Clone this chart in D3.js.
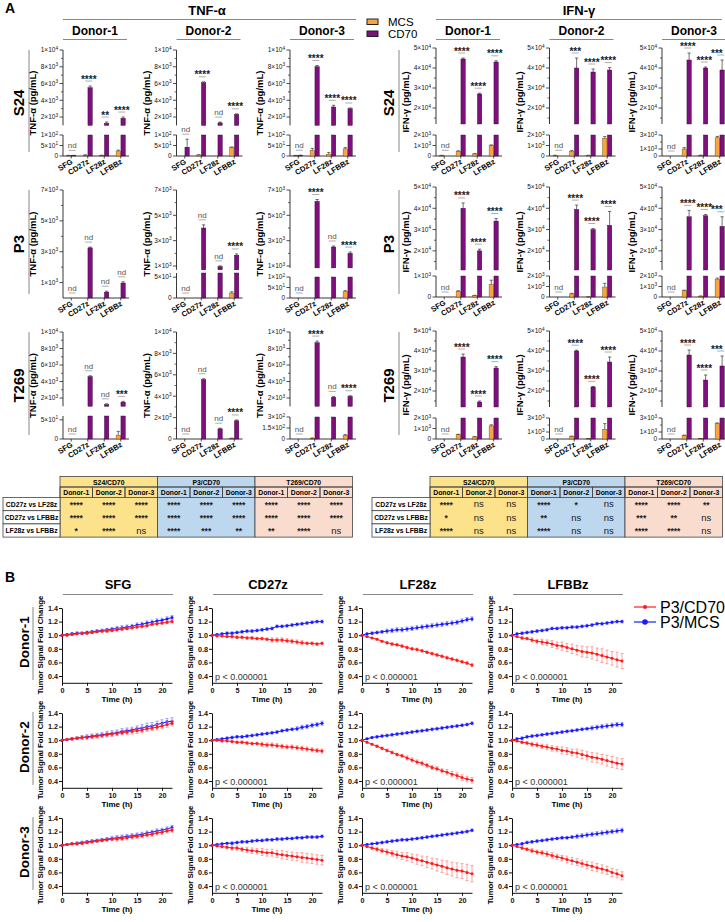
<!DOCTYPE html>
<html>
<head>
<meta charset="utf-8">
<script src="https://cdn.jsdelivr.net/npm/d3@7"></script>
<style>
  body { margin: 0; background: #fff; }
  svg { font-family: "Liberation Sans", Arial, sans-serif; display: block; }
</style>
</head>
<body>
<script>
// ---------------- Panel A : cytokine bars ----------------
const cats = ['SFG', 'CD27z', 'LF28z', 'LFBBz'];
const donors = ['Donor-1', 'Donor-2', 'Donor-3'];
const models = ['S24', 'P3', 'T269'];

// TNF-a, one inner array per donor, values in cats order (pg/mL)
const tnfS24Mcs = [[2, 4, 3, 24], [0, 5, 0, 40], [2, 26, 9, 34]];
const tnfS24McsErr = [[1, 2, 1, 4], [0, 1, 0, 3], [1, 10, 8, 6]];
const tnfS24Cd70 = [[2, 5500, 1250, 1850], [42, 6100, 1300, 2300], [3, 8000, 3200, 3000]];
const tnfS24Cd70Err = [[1, 200, 150, 150], [38, 100, 100, 80], [1, 150, 200, 80]];
const tnfS24Sig = [['nd', '****', '**', '****'], ['nd', '****', 'nd', '****'], ['nd', '****', '****', '****']];

const tnfP3Mcs = [[0, 0, 0, 0], [0, 0, 0, 12], [0, 0, 0, 30]];
const tnfP3McsErr = [[0, 0, 0, 0], [0, 0, 0, 3], [0, 0, 0, 5]];
const tnfP3Cd70 = [[0, 3250, 380, 970], [0, 4000, 950, 1850], [0, 6100, 2500, 2000]];
const tnfP3Cd70Err = [[0, 50, 60, 80], [0, 250, 60, 100], [0, 150, 80, 100]];
const tnfP3Sig = [['nd', 'nd', 'nd', 'nd'], ['nd', 'nd', 'nd', '****'], ['nd', '****', 'nd', '****']];

const tnfT269Mcs = [[0, 0, 0, 10], [0, 0, 0, 60], [0, 10, 0, 50]];
const tnfT269McsErr = [[0, 0, 0, 10], [0, 0, 0, 20], [0, 5, 0, 10]];
const tnfT269Cd70 = [[0, 4600, 1200, 1500], [0, 5550, 950, 1700], [0, 8700, 2100, 2200]];
const tnfT269Cd70Err = [[0, 100, 100, 100], [0, 80, 60, 80], [0, 200, 100, 80]];
const tnfT269Sig = [['nd', 'nd', 'nd', '***'], ['nd', 'nd', 'nd', '****'], ['nd', '****', 'nd', '****']];

// IFN-g
const ifnS24Mcs = [[50, 450, 200, 1000], [50, 450, 50, 1700], [0, 1000, 100, 2600]];
const ifnS24McsErr = [[20, 50, 30, 60], [20, 80, 20, 150], [0, 200, 30, 200]];
const ifnS24Cd70 = [[0, 44500, 27000, 43000], [0, 40000, 38000, 39000], [0, 44000, 40000, 39000]];
const ifnS24Cd70Err = [[0, 500, 400, 600], [0, 5000, 1500, 1200], [0, 3500, 500, 5000]];
const ifnS24Sig = [['nd', '****', '****', '****'], ['nd', '***', '****', '****'], ['nd', '****', '****', '***']];

const ifnP3Mcs = [[0, 270, 60, 600], [0, 300, 10, 950], [0, 600, 80, 1700]];
const ifnP3McsErr = [[0, 30, 20, 200], [0, 50, 5, 350], [0, 50, 20, 100]];
const ifnP3Cd70 = [[0, 40000, 20000, 34000], [0, 39500, 30000, 32000], [0, 36000, 36500, 31500]];
const ifnP3Cd70Err = [[0, 2500, 800, 1200], [0, 2000, 500, 6500], [0, 3000, 600, 4500]];
const ifnP3Sig = [['nd', '****', '****', '****'], ['nd', '****', '****', '****'], ['nd', '****', '****', '***']];

const ifnT269Mcs = [[0, 400, 200, 1250], [0, 350, 30, 1400], [0, 500, 50, 2200]];
const ifnT269McsErr = [[0, 50, 30, 100], [0, 60, 10, 800], [0, 60, 20, 100]];
const ifnT269Cd70 = [[0, 37000, 14500, 31500], [0, 40000, 22000, 34500], [0, 38000, 25500, 32500]];
const ifnT269Cd70Err = [[0, 1500, 500, 700], [0, 400, 300, 2500], [0, 2500, 2500, 5000]];
const ifnT269Sig = [['nd', '****', '****', '****'], ['nd', '****', '****', '****'], ['nd', '****', '****', '***']];

// significance tables
const tableGroups = ['S24/CD70', 'P3/CD70', 'T269/CD70'];
const tableRows = ['CD27z vs LF28z', 'CD27z vs LFBBz', 'LF28z vs LFBBz'];
const tnfTable = [
  ['****', '****', '****', '****', '****', '****', '****', '****', '****'],
  ['****', '****', '****', '****', '****', '****', '****', '****', '****'],
  ['*', '****', 'ns', '****', '***', '**', '**', '****', 'ns']
];
const ifnTable = [
  ['****', 'ns', 'ns', '****', '*', 'ns', '****', '****', '**'],
  ['*', 'ns', 'ns', '**', 'ns', 'ns', '***', '**', 'ns'],
  ['****', 'ns', 'ns', '****', 'ns', 'ns', '****', '****', 'ns']
];

// ---------------- Panel B : tumor signal time course ----------------
const bCols = ['SFG', 'CD27z', 'LF28z', 'LFBBz'];
const hours = [0, 1, 2, 3, 4, 5, 6, 7, 8, 9, 10, 11, 12, 13, 14, 15, 16, 17, 18, 19, 20, 21, 22];
const bYTicks = [0.4, 0.6, 0.8, 1.0, 1.2, 1.4];
const bXTicks = [0, 5, 10, 15, 20];

const d1SfgCd70 = [1.00, 1.00, 1.01, 1.02, 1.03, 1.03, 1.04, 1.05, 1.06, 1.06, 1.07, 1.08, 1.09, 1.10, 1.11, 1.12, 1.13, 1.14, 1.16, 1.17, 1.18, 1.19, 1.20];
const d1SfgCd70Sd = [0, .01, .01, .01, .01, .01, .01, .01, .02, .02, .02, .02, .02, .02, .02, .02, .02, .02, .02, .02, .02, .02, .02];
const d1SfgMcs = [1.00, 1.01, 1.02, 1.03, 1.03, 1.04, 1.05, 1.06, 1.07, 1.08, 1.09, 1.10, 1.11, 1.12, 1.13, 1.15, 1.16, 1.18, 1.19, 1.21, 1.22, 1.24, 1.26];
const d1SfgMcsSd = [0, .01, .02, .02, .02, .02, .02, .02, .02, .02, .02, .03, .03, .03, .03, .03, .03, .03, .03, .03, .03, .03, .03];
const d1Cd27Cd70 = [1.00, 0.99, 0.99, 0.98, 0.98, 0.97, 0.97, 0.96, 0.96, 0.95, 0.95, 0.94, 0.93, 0.93, 0.93, 0.92, 0.91, 0.90, 0.89, 0.88, 0.88, 0.87, 0.88];
const d1Cd27Cd70Sd = [0, .01, .01, .01, .02, .02, .02, .02, .02, .02, .02, .02, .03, .03, .03, .03, .03, .03, .03, .02, .02, .02, .02];
const d1Cd27Mcs = [1.00, 1.01, 1.02, 1.03, 1.03, 1.04, 1.05, 1.06, 1.06, 1.07, 1.08, 1.09, 1.10, 1.13, 1.13, 1.14, 1.15, 1.16, 1.17, 1.18, 1.19, 1.20, 1.20];
const d1Cd27McsSd = [0, .01, .01, .02, .02, .02, .02, .02, .02, .02, .02, .02, .02, .02, .02, .02, .02, .02, .02, .02, .02, .02, .02];
const d1Lf28Cd70 = [1.00, 0.98, 0.96, 0.94, 0.91, 0.89, 0.87, 0.86, 0.84, 0.82, 0.80, 0.79, 0.77, 0.75, 0.73, 0.71, 0.69, 0.67, 0.65, 0.63, 0.61, 0.59, 0.56];
const d1Lf28Cd70Sd = [0, .01, .01, .01, .01, .02, .02, .02, .02, .02, .02, .02, .02, .02, .02, .02, .02, .02, .02, .02, .02, .02, .02];
const d1Lf28Mcs = [1.00, 1.02, 1.03, 1.04, 1.05, 1.06, 1.07, 1.08, 1.08, 1.09, 1.10, 1.11, 1.12, 1.13, 1.14, 1.15, 1.16, 1.17, 1.18, 1.19, 1.21, 1.23, 1.24];
const d1Lf28McsSd = [0, .01, .02, .02, .02, .03, .03, .03, .03, .03, .03, .03, .03, .03, .03, .03, .03, .03, .03, .03, .03, .03, .03];
const d1LfbbCd70 = [1.00, 0.98, 0.96, 0.95, 0.93, 0.91, 0.90, 0.89, 0.87, 0.85, 0.84, 0.82, 0.80, 0.78, 0.76, 0.75, 0.74, 0.72, 0.70, 0.68, 0.66, 0.64, 0.62];
const d1LfbbCd70Sd = [0, .01, .02, .02, .03, .03, .04, .04, .05, .05, .06, .06, .07, .07, .08, .08, .09, .09, .10, .10, .10, .11, .11];
const d1LfbbMcs = [1.00, 1.02, 1.03, 1.04, 1.05, 1.06, 1.07, 1.08, 1.10, 1.10, 1.11, 1.11, 1.12, 1.12, 1.13, 1.14, 1.15, 1.17, 1.17, 1.18, 1.19, 1.20, 1.20];
const d1LfbbMcsSd = [0, .01, .02, .02, .02, .02, .02, .02, .02, .02, .02, .02, .02, .02, .02, .02, .02, .02, .02, .02, .02, .02, .02];

const d2SfgCd70 = [1.00, 1.01, 1.02, 1.03, 1.04, 1.04, 1.05, 1.06, 1.07, 1.08, 1.09, 1.10, 1.11, 1.12, 1.13, 1.14, 1.15, 1.17, 1.18, 1.19, 1.21, 1.23, 1.25];
const d2SfgCd70Sd = [0, .01, .02, .02, .02, .03, .03, .03, .03, .03, .03, .03, .03, .04, .04, .04, .04, .04, .04, .04, .04, .04, .04];
const d2SfgMcs = [1.00, 1.01, 1.02, 1.03, 1.04, 1.05, 1.06, 1.07, 1.08, 1.09, 1.10, 1.11, 1.13, 1.14, 1.15, 1.17, 1.18, 1.20, 1.21, 1.23, 1.25, 1.27, 1.28];
const d2SfgMcsSd = [0, .01, .02, .02, .03, .03, .03, .03, .03, .04, .04, .04, .04, .04, .04, .04, .05, .05, .05, .05, .05, .05, .05];
const d2Cd27Cd70 = [1.00, 1.00, 0.99, 0.99, 0.98, 0.97, 0.97, 0.96, 0.95, 0.95, 0.94, 0.93, 0.93, 0.92, 0.91, 0.90, 0.90, 0.89, 0.88, 0.87, 0.86, 0.85, 0.84];
const d2Cd27Cd70Sd = [0, .01, .01, .01, .02, .02, .02, .02, .02, .02, .03, .03, .03, .03, .03, .03, .03, .03, .03, .03, .03, .03, .03];
const d2Cd27Mcs = [1.00, 1.01, 1.02, 1.03, 1.04, 1.05, 1.05, 1.06, 1.07, 1.08, 1.09, 1.10, 1.11, 1.12, 1.14, 1.15, 1.16, 1.17, 1.19, 1.20, 1.22, 1.23, 1.25];
const d2Cd27McsSd = [0, .01, .01, .02, .02, .02, .02, .02, .02, .02, .02, .02, .02, .02, .02, .02, .02, .03, .03, .03, .03, .03, .03];
const d2Lf28Cd70 = [1.00, 0.97, 0.94, 0.91, 0.88, 0.85, 0.82, 0.79, 0.77, 0.74, 0.71, 0.68, 0.66, 0.63, 0.60, 0.58, 0.55, 0.53, 0.50, 0.48, 0.45, 0.43, 0.41];
const d2Lf28Cd70Sd = [0, .01, .01, .02, .02, .02, .02, .02, .02, .03, .03, .03, .03, .03, .03, .03, .03, .04, .04, .04, .04, .04, .04];
const d2Lf28Mcs = [1.00, 1.02, 1.04, 1.05, 1.06, 1.07, 1.08, 1.09, 1.10, 1.11, 1.12, 1.13, 1.14, 1.15, 1.16, 1.17, 1.18, 1.19, 1.20, 1.21, 1.22, 1.23, 1.25];
const d2Lf28McsSd = [0, .01, .01, .02, .02, .02, .02, .02, .02, .02, .02, .02, .02, .02, .02, .02, .02, .02, .02, .02, .02, .02, .02];
const d2LfbbCd70 = [1.00, 0.99, 0.97, 0.96, 0.94, 0.93, 0.91, 0.90, 0.88, 0.87, 0.85, 0.84, 0.82, 0.81, 0.79, 0.77, 0.75, 0.74, 0.72, 0.70, 0.68, 0.66, 0.65];
const d2LfbbCd70Sd = [0, .01, .02, .02, .03, .03, .03, .04, .04, .04, .05, .05, .05, .06, .06, .06, .07, .07, .07, .08, .08, .08, .08];
const d2LfbbMcs = [1.00, 1.02, 1.03, 1.05, 1.06, 1.07, 1.08, 1.09, 1.10, 1.11, 1.12, 1.13, 1.14, 1.15, 1.16, 1.17, 1.18, 1.19, 1.20, 1.21, 1.22, 1.23, 1.23];
const d2LfbbMcsSd = [0, .01, .02, .02, .02, .02, .02, .02, .02, .02, .02, .02, .02, .02, .02, .02, .03, .03, .03, .03, .03, .03, .03];

const d3SfgCd70 = [1.00, 1.01, 1.02, 1.02, 1.03, 1.04, 1.05, 1.06, 1.07, 1.08, 1.09, 1.09, 1.10, 1.11, 1.12, 1.13, 1.14, 1.15, 1.16, 1.18, 1.19, 1.21, 1.22];
const d3SfgCd70Sd = [0, .01, .01, .02, .02, .02, .02, .02, .02, .02, .02, .03, .03, .03, .03, .03, .03, .03, .03, .03, .03, .03, .03];
const d3SfgMcs = [1.00, 1.01, 1.02, 1.03, 1.04, 1.05, 1.06, 1.07, 1.08, 1.09, 1.10, 1.11, 1.12, 1.13, 1.14, 1.15, 1.16, 1.18, 1.19, 1.21, 1.22, 1.24, 1.26];
const d3SfgMcsSd = [0, .01, .01, .02, .02, .02, .02, .02, .02, .02, .03, .03, .03, .03, .03, .03, .03, .03, .03, .03, .03, .03, .03];
const d3Cd27Cd70 = [1.00, 0.99, 0.98, 0.97, 0.96, 0.96, 0.94, 0.93, 0.92, 0.91, 0.90, 0.89, 0.89, 0.87, 0.86, 0.85, 0.84, 0.83, 0.82, 0.81, 0.80, 0.79, 0.78];
const d3Cd27Cd70Sd = [0, .01, .02, .02, .03, .03, .03, .04, .04, .04, .05, .05, .05, .05, .06, .06, .06, .06, .07, .07, .07, .07, .07];
const d3Cd27Mcs = [1.00, 1.01, 1.02, 1.03, 1.03, 1.04, 1.05, 1.05, 1.06, 1.07, 1.07, 1.08, 1.08, 1.09, 1.09, 1.10, 1.10, 1.11, 1.11, 1.12, 1.12, 1.12, 1.13];
const d3Cd27McsSd = [0, .01, .01, .01, .02, .02, .02, .02, .02, .02, .02, .02, .02, .02, .02, .02, .02, .02, .02, .02, .02, .02, .02];
const d3Lf28Cd70 = [1.00, 0.98, 0.96, 0.94, 0.92, 0.90, 0.88, 0.86, 0.84, 0.83, 0.81, 0.79, 0.77, 0.75, 0.73, 0.71, 0.69, 0.67, 0.65, 0.63, 0.62, 0.60, 0.58];
const d3Lf28Cd70Sd = [0, .01, .02, .03, .03, .04, .04, .05, .05, .06, .06, .07, .07, .08, .08, .09, .09, .10, .10, .11, .11, .12, .12];
const d3Lf28Mcs = [1.00, 1.01, 1.02, 1.03, 1.04, 1.05, 1.06, 1.07, 1.08, 1.08, 1.09, 1.10, 1.11, 1.12, 1.13, 1.14, 1.15, 1.16, 1.17, 1.18, 1.19, 1.20, 1.22];
const d3Lf28McsSd = [0, .01, .01, .02, .02, .02, .02, .02, .02, .02, .02, .02, .02, .02, .02, .02, .02, .02, .02, .02, .02, .02, .02];
const d3LfbbCd70 = [1.00, 0.98, 0.96, 0.94, 0.92, 0.90, 0.89, 0.87, 0.85, 0.83, 0.81, 0.79, 0.77, 0.75, 0.73, 0.71, 0.69, 0.67, 0.65, 0.63, 0.60, 0.58, 0.55];
const d3LfbbCd70Sd = [0, .01, .02, .02, .03, .03, .03, .04, .04, .04, .04, .05, .05, .05, .05, .05, .06, .06, .06, .06, .06, .06, .06];
const d3LfbbMcs = [1.00, 1.01, 1.02, 1.04, 1.05, 1.06, 1.07, 1.08, 1.09, 1.10, 1.11, 1.11, 1.12, 1.13, 1.14, 1.15, 1.16, 1.17, 1.18, 1.19, 1.20, 1.21, 1.22];
const d3LfbbMcsSd = [0, .01, .02, .02, .02, .02, .02, .02, .02, .02, .02, .02, .02, .03, .03, .03, .03, .03, .03, .03, .03, .03, .03];

// ---------------- layout ----------------
const W = 725, H = 922;
const ORANGE = '#f7a541', PURPLE = '#7f0f7e', RED = '#ff1a1a', BLUE = '#1a1aff';
const svg = d3.select('body').append('svg').attr('width', W).attr('height', H);

// axis segment helper: value domain, pixel range, labelled ticks, minor ticks
const seg = (d, r, t, m = []) => ({ d, r, t, m });
const tnfUp10k = r => seg([1000, 10000], r, [2000, 4000, 6000, 8000, 10000], [3000, 5000, 7000, 9000]);
const tnfUp7k = r => seg([r[2], 7000], [r[0], r[1]], [1000, 3000, 5000, 7000], [2000, 4000, 6000]);
const ifnUp = (lo, r) => seg([lo, 50000], r, [20000, 30000, 40000, 50000], [15000, 25000, 35000, 45000]);

const tnfAxes = [
  [0, 1, 2].map(() => [seg([0, 100], [156, 135], [0, 50, 100]), tnfUp10k([125.4, 50])]),
  [
    [seg([0, 7000], [298, 190], [1000, 3000, 5000, 7000], [2000, 4000, 6000])],
    [seg([0, 60], [298, 273], [0, 50]), tnfUp7k([269.8, 190, 700])],
    [seg([0, 100], [298, 277], [0, 50, 100]), tnfUp7k([267.9, 190, 850])]
  ],
  [
    [seg([0, 60], [439, 416], [0, 50]), tnfUp10k([406.3, 332])],
    [seg([0, 10000], [439, 332], [0, 2000, 4000, 6000, 8000, 10000], [1000, 3000, 5000, 7000, 9000])],
    [seg([0, 300], [439, 417], [0, 150, 300]), tnfUp10k([406.3, 332])]
  ]
];
const ifnAxes = [
  [
    [seg([0, 2000], [156, 135], [0, 1000, 2000]), ifnUp(12000, [124, 48])],
    [seg([0, 2000], [156, 135], [0, 1000, 2000]), ifnUp(12000, [124, 48])],
    [seg([0, 3000], [156, 135], [0, 1000, 3000], [2000]), ifnUp(12000, [124, 48])]
  ],
  [
    [seg([0, 1000], [297, 276], [0, 1000]), ifnUp(11000, [270, 187])],
    [seg([0, 2000], [297, 276], [0, 1000, 2000]), ifnUp(11000, [270, 187])],
    [seg([0, 2000], [297, 276], [0, 1000, 2000]), ifnUp(11000, [270, 187])]
  ],
  [
    [seg([0, 2000], [439, 418], [0, 1000, 2000]), ifnUp(12000, [407, 331])],
    [seg([0, 3000], [439, 418], [0, 1000, 3000], [2000]), ifnUp(12000, [407, 331])],
    [seg([0, 3000], [439, 418], [0, 1000, 3000], [2000]), ifnUp(12000, [407, 331])]
  ]
];
const tnfX = [63, 176.5, 290];
const ifnX = [436, 549.5, 662];
const rowSpan = [[50, 156], [190, 298], [332, 439]];

// "1×10^4" style label
function sciText(sel, v, size) {
  if (v === 0) { sel.text('0'); return; }
  const e = Math.floor(Math.log10(v) + 1e-9);
  const m = +(v / Math.pow(10, e)).toFixed(2);
  sel.append('tspan').text(m + '×10');
  sel.append('tspan').attr('font-size', size * 0.72).attr('dy', -size * 0.42).text(e);
}

function drawBarPanel(x0, segsIn, mcs, mcsErr, cd70, cd70Err, sig, yLabel) {
  const g = svg.append('g');
  const segs = segsIn.map(s => Object.assign({}, s, { y: d3.scaleLinear().domain(s.d).range(s.r) }));
  const yOf = v => {
    for (let i = segs.length - 1; i >= 0; i--) {
      const s = segs[i];
      if (v >= s.d[0] || i === 0) return s.y(Math.min(v, s.d[1]));
    }
  };
  const bottom = segs[0].r[0], top = segs[segs.length - 1].r[1];
  const x = d3.scaleBand().domain(cats).range([x0, x0 + 66]);
  const xs = d3.scaleBand().domain(['MCS', 'CD70']).range([3.6, 12.8]).paddingInner(0.1);

  // y axis segments with ticks
  segs.forEach(s => {
    g.append('line').attr('x1', x0).attr('x2', x0).attr('y1', s.r[0]).attr('y2', s.r[1])
      .attr('stroke', '#222').attr('stroke-width', 0.9);
    s.m.forEach(t => g.append('line').attr('x1', x0 - 2).attr('x2', x0).attr('y1', s.y(t)).attr('y2', s.y(t))
      .attr('stroke', '#222').attr('stroke-width', 0.7));
    s.t.forEach(t => {
      g.append('line').attr('x1', x0 - 3.5).attr('x2', x0).attr('y1', s.y(t)).attr('y2', s.y(t))
        .attr('stroke', '#222').attr('stroke-width', 0.8);
      const tx = g.append('text').attr('x', x0 - 5).attr('y', s.y(t) + 2.3)
        .attr('text-anchor', 'end').attr('font-size', 6.5).attr('fill', '#111');
      sciText(tx, t, 6.5);
    });
  });

  // x axis
  g.append('line').attr('x1', x0).attr('x2', x0 + 66).attr('y1', bottom).attr('y2', bottom)
    .attr('stroke', '#222').attr('stroke-width', 0.9);
  cats.forEach(c => {
    const cx = x(c) + x.bandwidth() / 2;
    g.append('line').attr('x1', cx).attr('x2', cx).attr('y1', bottom).attr('y2', bottom + 2.5)
      .attr('stroke', '#222').attr('stroke-width', 0.8);
    g.append('text').attr('transform', `translate(${cx + 2},${bottom + 7}) rotate(-32)`)
      .attr('text-anchor', 'end').attr('font-size', 7.6).attr('font-weight', 'bold').text(c);
  });

  // bars (broken across segments) and upward error bars
  const series = [
    { key: 'MCS', vals: mcs, errs: mcsErr, fill: ORANGE, stroke: '#6b3d00' },
    { key: 'CD70', vals: cd70, errs: cd70Err, fill: PURPLE, stroke: '#2a002a' }
  ];
  series.forEach(sr => {
    cats.forEach((c, i) => {
      const v = sr.vals[i], bx = x(c) + xs(sr.key), bw = xs.bandwidth();
      segs.forEach(s => {
        if (v > s.d[0]) {
          const yt = s.y(Math.min(v, s.d[1])), yb = s.y(s.d[0]);
          g.append('rect').attr('x', bx).attr('y', yt).attr('width', bw).attr('height', Math.max(0, yb - yt))
            .attr('fill', sr.fill).attr('stroke', sr.stroke).attr('stroke-width', 0.4);
        }
      });
      if (sr.errs[i] > 0 && v > 0) {
        const y1 = yOf(v), y2 = yOf(v + sr.errs[i]), cx = bx + bw / 2;
        g.append('line').attr('x1', cx).attr('x2', cx).attr('y1', y1).attr('y2', y2).attr('stroke', '#333').attr('stroke-width', 0.7);
        g.append('line').attr('x1', cx - 1.6).attr('x2', cx + 1.6).attr('y1', y2).attr('y2', y2).attr('stroke', '#333').attr('stroke-width', 0.7);
      }
    });
  });

  // significance marks (kept inside the page on the right edge)
  cats.forEach((c, i) => {
    if (!sig[i]) return;
    const yTop = Math.min(yOf(mcs[i] + mcsErr[i]), yOf(cd70[i] + cd70Err[i]));
    const cx = x(c) + x.bandwidth() / 2 + 1;
    const ly = yTop - 5;
    g.append('line').attr('x1', cx - 3.5).attr('x2', cx + 3.5).attr('y1', ly).attr('y2', ly)
      .attr('stroke', '#999').attr('stroke-width', 0.8);
    const isNd = sig[i] === 'nd';
    const half = isNd ? 5 : sig[i].length * 2.2;
    g.append('text').attr('x', Math.min(cx, W - 1.5 - half)).attr('y', isNd ? ly - 2 : ly + 1.5).attr('text-anchor', 'middle')
      .attr('font-size', isNd ? 8 : 10).attr('fill', isNd ? '#555' : '#222')
      .attr('font-weight', isNd ? 'normal' : 'bold').text(sig[i]);
  });

  // y axis title
  g.append('text').attr('transform', `translate(${x0 - 27},${(top + bottom) / 2}) rotate(-90)`)
    .attr('text-anchor', 'middle').attr('font-size', 9.5).attr('font-weight', 'bold').text(yLabel);
}

const tnfData = [
  [tnfS24Mcs, tnfS24McsErr, tnfS24Cd70, tnfS24Cd70Err, tnfS24Sig],
  [tnfP3Mcs, tnfP3McsErr, tnfP3Cd70, tnfP3Cd70Err, tnfP3Sig],
  [tnfT269Mcs, tnfT269McsErr, tnfT269Cd70, tnfT269Cd70Err, tnfT269Sig]
];
const ifnData = [
  [ifnS24Mcs, ifnS24McsErr, ifnS24Cd70, ifnS24Cd70Err, ifnS24Sig],
  [ifnP3Mcs, ifnP3McsErr, ifnP3Cd70, ifnP3Cd70Err, ifnP3Sig],
  [ifnT269Mcs, ifnT269McsErr, ifnT269Cd70, ifnT269Cd70Err, ifnT269Sig]
];

models.forEach((m, r) => {
  donors.forEach((dn, d) => {
    const t = tnfData[r], f = ifnData[r];
    drawBarPanel(tnfX[d], tnfAxes[r][d], t[0][d], t[1][d], t[2][d], t[3][d], t[4][d], 'TNF-α (pg/mL)');
    drawBarPanel(ifnX[d], ifnAxes[r][d], f[0][d], f[1][d], f[2][d], f[3][d], f[4][d], 'IFN-γ (pg/mL)');
  });
  // row label + bracket line
  const [y1, y2] = rowSpan[r];
  [[19, 29], [389, 399]].forEach(([tx, lx]) => {
    svg.append('text').attr('transform', `translate(${tx},${(y1 + y2) / 2}) rotate(-90)`)
      .attr('text-anchor', 'middle').attr('dy', '0.35em').attr('font-size', 15).attr('font-weight', 'bold').text(m);
    svg.append('line').attr('x1', lx).attr('x2', lx).attr('y1', y1).attr('y2', y2 - 4).attr('stroke', '#888').attr('stroke-width', 1);
  });
});

// headers of panel A
svg.append('text').attr('x', 5).attr('y', 13).attr('font-size', 14).attr('font-weight', 'bold').text('A');
[[207, 63, 356, 'TNF-α'], [579, 436, 722, 'IFN-γ']].forEach(([cx, xa, xb, t]) => {
  svg.append('text').attr('x', cx).attr('y', 15).attr('text-anchor', 'middle').attr('font-size', 13).attr('font-weight', 'bold').text(t);
  svg.append('line').attr('x1', xa).attr('x2', xb).attr('y1', 19.5).attr('y2', 19.5).attr('stroke', '#888').attr('stroke-width', 1);
});
[tnfX, ifnX].forEach(xs => xs.forEach((x0, d) => {
  svg.append('text').attr('x', x0 + 32).attr('y', 35).attr('text-anchor', 'middle')
    .attr('font-size', 12).attr('font-weight', 'bold').text(donors[d]);
  svg.append('line').attr('x1', x0).attr('x2', x0 + 64).attr('y1', 39.5).attr('y2', 39.5).attr('stroke', '#888').attr('stroke-width', 1);
}));
// legend A
[['MCS', ORANGE, 19], ['CD70', PURPLE, 31]].forEach(([t, c, y]) => {
  svg.append('rect').attr('x', 367).attr('y', y).attr('width', 11).attr('height', 5.5)
    .attr('fill', c).attr('stroke', '#222').attr('stroke-width', 1);
  svg.append('text').attr('x', 388).attr('y', y + 6.5).attr('font-size', 11.5).text(t);
});

// ---------------- tables ----------------
function drawTable(xLab, x1, vals) {
  const colW = 32.5, yH1 = 476.5, yH2 = 487, yR = 497.5, rowH = 13.2;
  const colors = ['#fde28c', '#bdd7ee', '#f9dccd'];
  const g = svg.append('g').attr('stroke-width', 0.8);
  tableGroups.forEach((gn, gi) => {
    const gx = x1 + gi * 3 * colW;
    g.append('rect').attr('x', gx).attr('y', yH1).attr('width', 3 * colW).attr('height', yR + 3 * rowH - yH1)
      .attr('fill', colors[gi]).attr('stroke', '#444');
    g.append('line').attr('x1', gx).attr('x2', gx + 3 * colW).attr('y1', yH2).attr('y2', yH2).attr('stroke', '#444');
    g.append('text').attr('x', gx + 1.5 * colW).attr('y', yH2 - 2.3).attr('text-anchor', 'middle')
      .attr('font-size', 6.8).attr('font-weight', 'bold').text(gn);
    donors.forEach((dn, di) => {
      const cx = gx + di * colW;
      g.append('rect').attr('x', cx).attr('y', yH2).attr('width', colW).attr('height', yR - yH2)
        .attr('fill', 'none').attr('stroke', '#444');
      g.append('text').attr('x', cx + colW / 2).attr('y', yR - 2.4).attr('text-anchor', 'middle')
        .attr('font-size', 6.8).attr('font-weight', 'bold').text(dn);
      tableRows.forEach((rn, ri) => {
        const v = vals[ri][gi * 3 + di];
        const ns = v === 'ns';
        g.append('text').attr('x', cx + colW / 2).attr('y', yR + ri * rowH + (ns ? 9.8 : 10.2))
          .attr('text-anchor', 'middle').attr('font-size', ns ? 9.5 : 8.5)
          .attr('font-weight', ns ? 'normal' : 'bold').attr('fill', '#222').text(v);
      });
    });
  });
  tableRows.forEach((rn, ri) => {
    g.append('rect').attr('x', xLab).attr('y', yR + ri * rowH).attr('width', x1 - xLab).attr('height', rowH)
      .attr('fill', '#fff').attr('stroke', '#444');
    g.append('text').attr('x', (xLab + x1) / 2).attr('y', yR + ri * rowH + 9).attr('text-anchor', 'middle')
      .attr('font-size', 6.8).attr('font-weight', 'bold').text(rn);
  });
}
drawTable(3, 60, tnfTable);
drawTable(372, 430, ifnTable);

// ---------------- panel B ----------------
const bMeans = {
  'Donor-1': [[d1SfgCd70, d1SfgCd70Sd, d1SfgMcs, d1SfgMcsSd], [d1Cd27Cd70, d1Cd27Cd70Sd, d1Cd27Mcs, d1Cd27McsSd],
              [d1Lf28Cd70, d1Lf28Cd70Sd, d1Lf28Mcs, d1Lf28McsSd], [d1LfbbCd70, d1LfbbCd70Sd, d1LfbbMcs, d1LfbbMcsSd]],
  'Donor-2': [[d2SfgCd70, d2SfgCd70Sd, d2SfgMcs, d2SfgMcsSd], [d2Cd27Cd70, d2Cd27Cd70Sd, d2Cd27Mcs, d2Cd27McsSd],
              [d2Lf28Cd70, d2Lf28Cd70Sd, d2Lf28Mcs, d2Lf28McsSd], [d2LfbbCd70, d2LfbbCd70Sd, d2LfbbMcs, d2LfbbMcsSd]],
  'Donor-3': [[d3SfgCd70, d3SfgCd70Sd, d3SfgMcs, d3SfgMcsSd], [d3Cd27Cd70, d3Cd27Cd70Sd, d3Cd27Mcs, d3Cd27McsSd],
              [d3Lf28Cd70, d3Lf28Cd70Sd, d3Lf28Mcs, d3Lf28McsSd], [d3LfbbCd70, d3LfbbCd70Sd, d3LfbbMcs, d3LfbbMcsSd]]
};
const bX = [62, 212, 362, 512];
const bY = [608, 713, 818];

function drawLinePanel(x0, y0, set, showP) {
  const [cd70, cd70Sd, mcs, mcsSd] = set;
  const g = svg.append('g');
  const x = d3.scaleLinear().domain([0, 22]).range([x0, x0 + 110]);
  const y = d3.scaleLinear().domain([0.3, 1.4]).range([y0 + 74.8, y0]);
  const ya = g.append('g').attr('transform', `translate(${x0},0)`)
    .call(d3.axisLeft(y).tickValues(bYTicks).tickFormat(d3.format('.1f')).tickSize(3).tickSizeOuter(0));
  const xa = g.append('g').attr('transform', `translate(0,${y0 + 74.8})`)
    .call(d3.axisBottom(x).tickValues(bXTicks).tickSize(3).tickSizeOuter(0));
  [ya, xa].forEach(a => {
    a.selectAll('text').attr('font-size', 7.2).attr('font-weight', 'bold').attr('fill', '#111')
      .attr('font-family', '"Liberation Sans", Arial, sans-serif');
    a.selectAll('path,line').attr('stroke', '#111');
  });
  ya.selectAll('text').attr('x', -4);
  xa.selectAll('text').attr('y', 5);

  [[mcs, mcsSd, BLUE, '#7d7dff'], [cd70, cd70Sd, RED, '#ff8080']].forEach(([m, sd, col, ecol]) => {
    hours.forEach((h, i) => {
      if (!sd[i]) return;
      const ya1 = y(m[i] - sd[i]), ya2 = y(m[i] + sd[i]), cx = x(h);
      g.append('line').attr('x1', cx).attr('x2', cx).attr('y1', ya1).attr('y2', ya2).attr('stroke', ecol).attr('stroke-width', 0.7);
      [ya1, ya2].forEach(yy => g.append('line').attr('x1', cx - 1.5).attr('x2', cx + 1.5).attr('y1', yy).attr('y2', yy)
        .attr('stroke', ecol).attr('stroke-width', 0.7));
    });
    g.append('path').datum(hours).attr('fill', 'none').attr('stroke', col).attr('stroke-width', 1)
      .attr('d', d3.line().x(h => x(h)).y((h, i) => y(m[i])));
    g.selectAll(null).data(hours).join('circle').attr('cx', h => x(h)).attr('cy', (h, i) => y(m[i]))
      .attr('r', 1.5).attr('fill', col);
  });

  if (showP) {
    g.append('text').attr('x', x0 + 3).attr('y', y0 + 72).attr('font-size', 9).attr('fill', '#333').text('p < 0.000001');
  }
  g.append('text').attr('transform', `translate(${x0 - 19},${y0 + 37}) rotate(-90)`).attr('text-anchor', 'middle')
    .attr('font-size', 7.8).attr('font-weight', 'bold').text('Tumor Signal Fold Change');
  g.append('text').attr('x', x0 + 55).attr('y', y0 + 94).attr('text-anchor', 'middle')
    .attr('font-size', 8).attr('font-weight', 'bold').text('Time (h)');
}

svg.append('text').attr('x', 5).attr('y', 582).attr('font-size', 14).attr('font-weight', 'bold').text('B');
bCols.forEach((c, ci) => {
  svg.append('text').attr('x', bX[ci] + 56).attr('y', 589).attr('text-anchor', 'middle')
    .attr('font-size', 13).attr('font-weight', 'bold').text(c);
  svg.append('line').attr('x1', bX[ci] + 1).attr('x2', bX[ci] + 111).attr('y1', 594.5).attr('y2', 594.5)
    .attr('stroke', '#888').attr('stroke-width', 1);
});
donors.forEach((dn, di) => {
  svg.append('text').attr('transform', `translate(${24},${bY[di] + 34}) rotate(-90)`).attr('text-anchor', 'middle')
    .attr('dy', '0.35em').attr('font-size', 13.5).attr('font-weight', 'bold').text(dn);
  svg.append('line').attr('x1', 33).attr('x2', 33).attr('y1', bY[di] - 1).attr('y2', bY[di] + 72)
    .attr('stroke', '#888').attr('stroke-width', 1);
  bCols.forEach((c, ci) => drawLinePanel(bX[ci], bY[di], bMeans[dn][ci], ci > 0));
});

// legend B
[['P3/CD70', RED, 607], ['P3/MCS', BLUE, 622]].forEach(([t, c, y]) => {
  svg.append('line').attr('x1', 634).attr('x2', 656).attr('y1', y).attr('y2', y).attr('stroke', c).attr('stroke-width', 1.2);
  svg.append('circle').attr('cx', 645).attr('cy', y).attr('r', t === 'P3/MCS' ? 2.8 : 2).attr('fill', c);
  svg.append('text').attr('x', 660).attr('y', y + 5.5).attr('font-size', 16).text(t);
});
</script>
</body>
</html>
